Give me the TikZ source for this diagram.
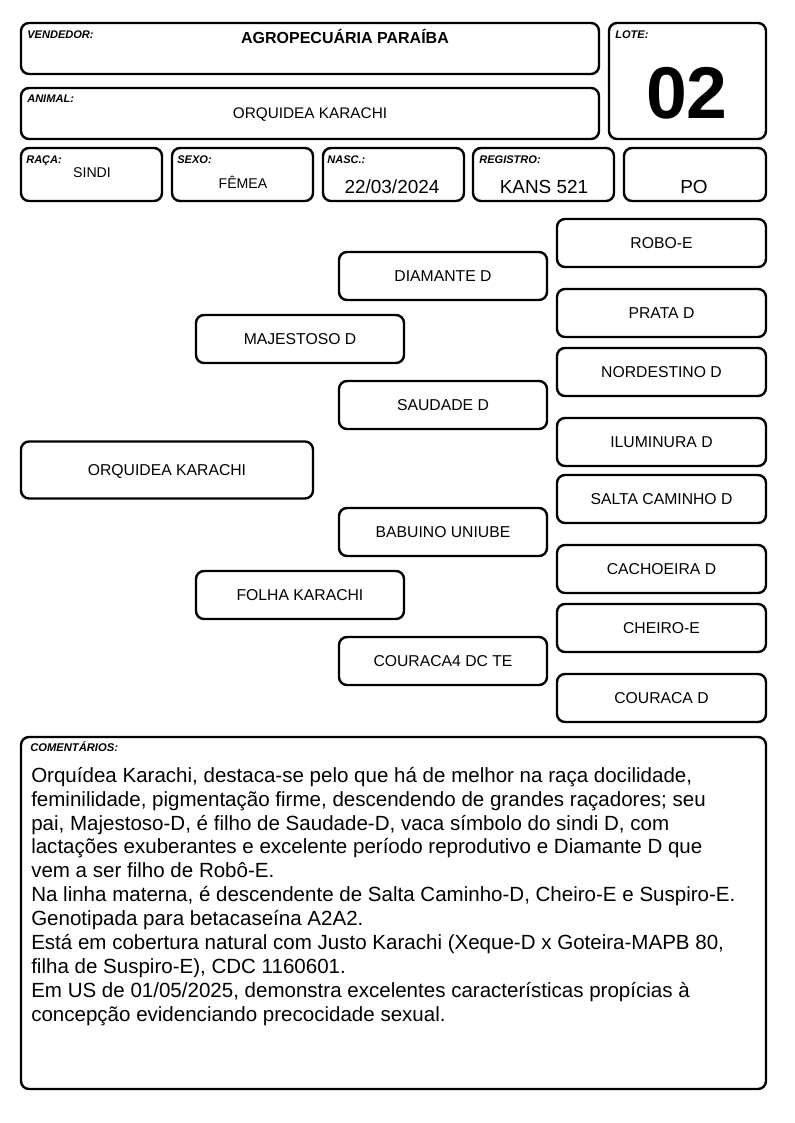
\documentclass[tikz,border=0pt]{standalone}
\usepackage{fontspec}
\setmainfont{Liberation Sans}
\begin{document}
\begin{tikzpicture}[x=0.75pt,y=-0.75pt,
  box/.style={draw=black,line width=1.8pt,rounded corners=6pt,inner sep=0pt,fill=white},
  tbox/.style={box,minimum height=48*0.75pt,text height=8.5pt,text depth=-0.8pt,font=\fontsize{11.8}{13}\selectfont},
  lbl/.style={anchor=base west,inner sep=0pt,font=\fontsize{8.3}{9}\selectfont\bfseries\itshape},
  val/.style={anchor=base,inner sep=0pt},
  vsm/.style={val,font=\fontsize{10.6}{12}\selectfont},
  vbig/.style={val,font=\fontsize{14.2}{16}\selectfont}]
\useasboundingbox (0,0) rectangle (794,1123);
% header boxes
\node[box,minimum width=578*0.75pt,minimum height=51*0.75pt] (vend) at (310,48.5) {};
\node[box,minimum width=578*0.75pt,minimum height=51*0.75pt] (anim) at (310,113.5) {};
\node[box,minimum width=157*0.75pt,minimum height=116*0.75pt] (lote) at (687.5,81) {};
\node[box,minimum width=141*0.75pt,minimum height=53*0.75pt] (raca) at (91.5,174.5) {};
\node[box,minimum width=141*0.75pt,minimum height=53*0.75pt] (sexo) at (242.5,174.5) {};
\node[box,minimum width=141*0.75pt,minimum height=53*0.75pt] (nasc) at (393.5,174.5) {};
\node[box,minimum width=141*0.75pt,minimum height=53*0.75pt] (reg) at (543.5,174.5) {};
\node[box,minimum width=142*0.75pt,minimum height=53*0.75pt] (po) at (695,174.5) {};
% header texts
\node[lbl] (vendl) at (27,39) {VENDEDOR:};
\node[val,font=\fontsize{12}{14}\selectfont\bfseries] (vendv) at (345,44) {AGROPECUÁRIA PARAÍBA};
\node[lbl] (animl) at (27,103) {ANIMAL:};
\node[val,font=\fontsize{11.5}{13}\selectfont] (animv) at (310,119) {ORQUIDEA KARACHI};
\node[lbl] (lotel) at (615,39) {LOTE:};
\node[val,font=\fontsize{55}{60}\selectfont\bfseries] (lotev) at (687,119) {02};
\node[lbl] (racal) at (26,164) {RAÇA:};
\node[vsm] (racav) at (92,178) {SINDI};
\node[lbl] (sexol) at (177,164) {SEXO:};
\node[vsm] (sexov) at (243,189) {FÊMEA};
\node[lbl] (nascl) at (327,164) {NASC.:};
\node[vbig] (nascv) at (392,193.5) {22/03/2024};
\node[lbl] (regl) at (479,164) {REGISTRO:};
\node[vbig] (regv) at (544,193.5) {KANS 521};
\node[vbig] (pov) at (694,193.5) {PO};
% pedigree
\node[tbox,minimum width=292*0.75pt,minimum height=57*0.75pt] (orq) at (167,470) {ORQUIDEA KARACHI};
\node[tbox,minimum width=208*0.75pt] (maj) at (300,339) {MAJESTOSO D};
\node[tbox,minimum width=208*0.75pt] (fol) at (300,595) {FOLHA KARACHI};
\node[tbox,minimum width=208*0.75pt] (dia) at (443,276) {DIAMANTE D};
\node[tbox,minimum width=208*0.75pt] (sau) at (443,405) {SAUDADE D};
\node[tbox,minimum width=208*0.75pt] (bab) at (443,532) {BABUINO UNIUBE};
\node[tbox,minimum width=208*0.75pt] (cou4) at (443,661) {COURACA4 DC TE};
\node[tbox,minimum width=209*0.75pt] (rob) at (661.5,243) {ROBO-E};
\node[tbox,minimum width=209*0.75pt] (pra) at (661.5,313) {PRATA D};
\node[tbox,minimum width=209*0.75pt] (nor) at (661.5,372) {NORDESTINO D};
\node[tbox,minimum width=209*0.75pt] (ilu) at (661.5,442) {ILUMINURA D};
\node[tbox,minimum width=209*0.75pt] (sal) at (661.5,499) {SALTA CAMINHO D};
\node[tbox,minimum width=209*0.75pt] (cac) at (661.5,569) {CACHOEIRA D};
\node[tbox,minimum width=209*0.75pt] (che) at (661.5,628) {CHEIRO-E};
\node[tbox,minimum width=209*0.75pt] (cou) at (661.5,698) {COURACA D};
% comments
\node[box,minimum width=745*0.75pt,minimum height=352*0.75pt] (com) at (393.5,913) {};
\node[lbl,font=\fontsize{8.4}{9}\selectfont\bfseries\itshape] (coml) at (30,751) {COMENTÁRIOS:};
\node[anchor=north west,inner sep=0pt,align=left,font=\fontsize{15.4}{17.9}\selectfont] (comt) at (31,767) {Orquídea Karachi, destaca-se pelo que há de melhor na raça docilidade,\\
feminilidade, pigmentação firme, descendendo de grandes raçadores; seu\\
pai, Majestoso-D, é filho de Saudade-D, vaca símbolo do sindi D, com\\
lactações exuberantes e excelente período reprodutivo e Diamante D que\\
vem a ser filho de Robô-E.\\
Na linha materna, é descendente de Salta Caminho-D, Cheiro-E e Suspiro-E.\\
Genotipada para betacaseína A2A2.\\
Está em cobertura natural com Justo Karachi (Xeque-D x Goteira-MAPB 80,\\
filha de Suspiro-E), CDC 1160601.\\
Em US de 01/05/2025, demonstra excelentes características propícias à\\
concepção evidenciando precocidade sexual.};
\end{tikzpicture}
\end{document}
